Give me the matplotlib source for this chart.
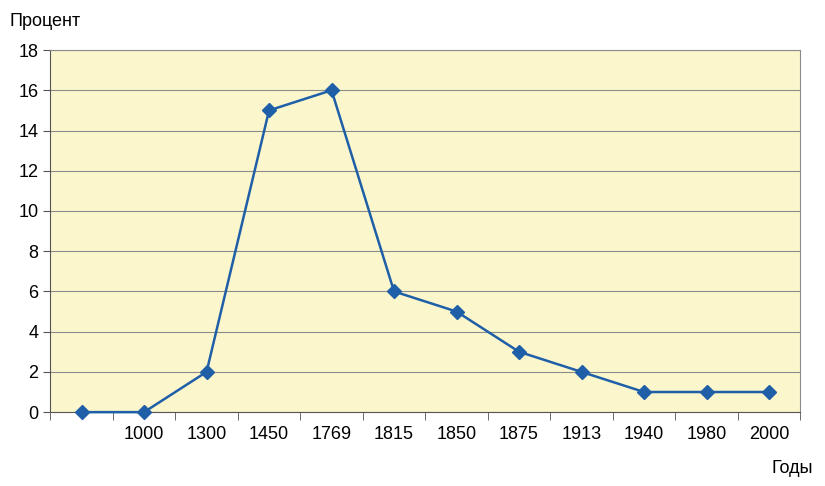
import matplotlib.pyplot as plt

plt.rcParams['font.family'] = ['Liberation Sans', 'DejaVu Sans']

years = ['', '1000', '1300', '1450', '1769', '1815', '1850', '1875', '1913', '1940', '1980', '2000']
percent = [0, 0, 2, 15, 16, 6, 5, 3, 2, 1, 1, 1]

fig = plt.figure(figsize=(8.25, 4.86), dpi=100)
ax = fig.add_axes([0.061, 0.152, 0.909, 0.745])
ax.set_facecolor('#FBF6CC')

x = list(range(len(years)))
ax.plot(x, percent, color='#1F5FA8', linewidth=1.8, marker='D', markersize=7,
        markerfacecolor='#1F5FA8', markeredgecolor='#1F5FA8', zorder=3, clip_on=False)

ax.set_xlim(-0.5, len(years) - 0.5)
ax.set_ylim(0, 18)
ax.set_yticks(range(0, 19, 2))
ax.yaxis.grid(True, color='#8C8C8C', linewidth=0.8)
ax.set_axisbelow(True)

ax.set_xticks(x)
ax.set_xticklabels(years, fontsize=13)
ax.tick_params(axis='x', length=0, pad=10)
ax.set_xticks([i + 0.5 for i in range(-1, len(years))], minor=True)
ax.tick_params(axis='x', which='minor', length=6, color='#555555')
ax.tick_params(axis='y', labelsize=13, length=5, color='#555555')

for s in ax.spines.values():
    s.set_color('#8C8C8C')
ax.spines['left'].set_color('#555555')
ax.spines['bottom'].set_color('#555555')

fig.text(0.012, 0.955, 'Процент', fontsize=13, ha='left', va='center')
fig.text(0.985, 0.035, 'Годы', fontsize=13, ha='right', va='center')

fig.savefig('out.png', dpi=100)
